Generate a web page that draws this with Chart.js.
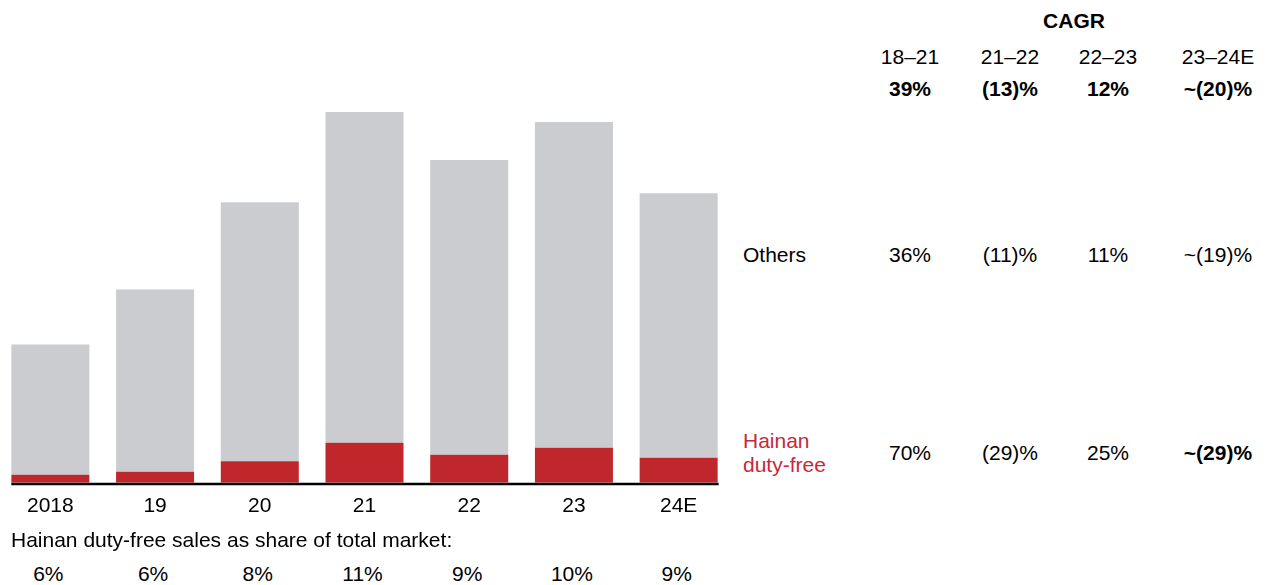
<!DOCTYPE html>
<html lang="en">
<head>
  <meta charset="UTF-8" />
  <title>Duty-free market</title>
  <script src="https://cdn.jsdelivr.net/npm/chart.js"></script>
  <style>
    body {
      margin: 0;
      background: #fff;
      color: #000;
      font-family: "Liberation Sans", Arial, sans-serif;
      width: 1266px;
      height: 585px;
      position: relative;
      overflow: hidden;
    }
    .wrap {
      position: absolute;
      left: -2px;
      top: 0;
      width: 733px;
      height: 530px;
    }
    .t {
      position: absolute;
      font-size: 21px;
      line-height: 24px;
      white-space: nowrap;
    }
    .c { transform: translateX(-50%); text-align: center; }
    .b { font-weight: bold; }
    .red { color: #c8283a; }
  </style>
</head>
<body>
  <div class="wrap"><canvas id="chart"></canvas></div>
  <div id="table"></div>

  <script>
    // Market size per year, split into Hainan duty-free and the rest
    const years = ['2018', '19', '20', '21', '22', '23', '24E'];
    const hainan = [8, 11, 21.5, 40, 28, 35, 25];
    const others = [130, 182, 258.5, 330, 294, 325, 264];
    const shareLabels = ['6%', '6%', '8%', '11%', '9%', '10%', '9%'];

    // CAGR table on the right
    const periods = ['18–21', '21–22', '22–23', '23–24E'];
    const cagrTotal = ['39%', '(13)%', '12%', '~(20)%'];
    const cagrOthers = ['36%', '(11)%', '11%', '~(19)%'];
    const cagrHainan = ['70%', '(29)%', '25%', '~(29)%'];

    const GREY = '#cbcccf';
    const RED = '#c0272d';

    // black baseline spanning from first to last bar
    const baseline = {
      id: 'baseline',
      afterDatasetsDraw(chart) {
        const bars = chart.getDatasetMeta(0).data;
        const first = bars[0], last = bars[bars.length - 1];
        const ctx = chart.ctx;
        const y = chart.chartArea.bottom + 1.2;
        ctx.save();
        ctx.strokeStyle = '#000';
        ctx.lineWidth = 2.6;
        ctx.beginPath();
        ctx.moveTo(first.x - first.width / 2, y);
        ctx.lineTo(last.x + last.width / 2 + 1, y);
        ctx.stroke();
        ctx.restore();
      }
    };

    const chart = new Chart(document.getElementById('chart'), {
      type: 'bar',
      data: {
        labels: years,
        datasets: [
          { label: 'Hainan duty-free', data: hainan, backgroundColor: RED },
          { label: 'Others', data: others, backgroundColor: GREY }
        ]
      },
      options: {
        responsive: true,
        maintainAspectRatio: false,
        animation: false,
        layout: { padding: { top: 102, left: 0, right: 0, bottom: 0 } },
        datasets: {
          bar: { categoryPercentage: 1, barPercentage: 0.745 }
        },
        plugins: {
          legend: { display: false },
          tooltip: { enabled: false }
        },
        scales: {
          x: {
            stacked: true,
            grid: { display: false, drawTicks: false },
            border: { display: false },
            ticks: {
              color: '#000',
              padding: 11,
              font: { family: '"Liberation Sans", Arial, sans-serif', size: 21 }
            }
          },
          y: {
            stacked: true,
            display: false,
            min: 0,
            max: 380
          }
        }
      },
      plugins: [baseline]
    });

    function addText(txt, x, y, cls) {
      const d = document.createElement('div');
      d.className = 't ' + (cls || '');
      d.style.left = x + 'px';
      d.style.top = y + 'px';
      d.innerHTML = txt;
      document.getElementById('table').appendChild(d);
      return d;
    }

    // share of total market, one value under each bar
    addText('Hainan duty-free sales as share of total market:', 11, 528);
    const wrapLeft = -2;
    shareLabels.forEach((s, i) => {
      const x = chart.scales.x.getPixelForValue(i) + wrapLeft - 2;
      addText(s, x, 562, 'c');
    });

    // CAGR columns
    const colX = [910, 1010, 1108, 1218];
    addText('CAGR', 1074, 9, 'c b');
    periods.forEach((p, i) => {
      addText(p, colX[i], 45, 'c');
      addText(cagrTotal[i], colX[i], 77, 'c b');
      addText(cagrOthers[i], colX[i], 243, 'c');
      addText(cagrHainan[i], colX[i], 441, 'c' + (i === 3 ? ' b' : ''));
    });
    addText('Others', 743, 243);
    addText('Hainan<br>duty-free', 743, 429, 'red');
  </script>
</body>
</html>
